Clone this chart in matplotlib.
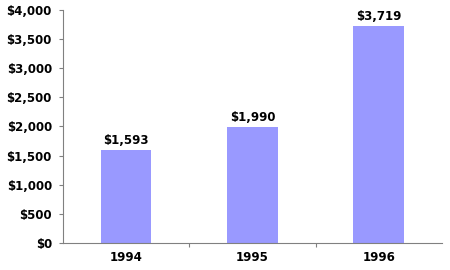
import matplotlib.pyplot as plt

years = ['1994', '1995', '1996']
values = [1593, 1990, 3719]
labels = ['$1,593', '$1,990', '$3,719']
yticks = [0, 500, 1000, 1500, 2000, 2500, 3000, 3500, 4000]

fig = plt.figure(figsize=(4.5, 2.7), dpi=100)
ax = fig.add_axes([0.14, 0.1, 0.842, 0.863])

x = range(len(years))
ax.bar(x, values, width=0.4, color='#9999ff')
for i, v in enumerate(values):
    ax.text(i, v + 50, labels[i], ha='center', va='bottom',
            fontsize=8.5, fontweight='bold')

ax.set_xlim(-0.5, 2.5)
ax.set_ylim(0, 4000)
ax.set_yticks(yticks)
ax.set_yticklabels(['$' + format(t, ',') for t in yticks],
                   fontsize=8.5, fontweight='bold')
ax.set_xticks([0.5, 1.5])
ax.set_xticklabels([])
ax.set_xticks(list(x), minor=True)
ax.set_xticklabels(years, minor=True, fontsize=8.5, fontweight='bold')
ax.tick_params(axis='x', which='minor', length=0, pad=6)
ax.tick_params(axis='x', which='major', length=3, color='#808080', direction='out')
ax.tick_params(axis='y', length=3, color='#808080', pad=5)

for s in ['top', 'right']:
    ax.spines[s].set_visible(False)
ax.spines['left'].set_color('#808080')
ax.spines['bottom'].set_color('#808080')

fig.savefig('out.png', dpi=100)
